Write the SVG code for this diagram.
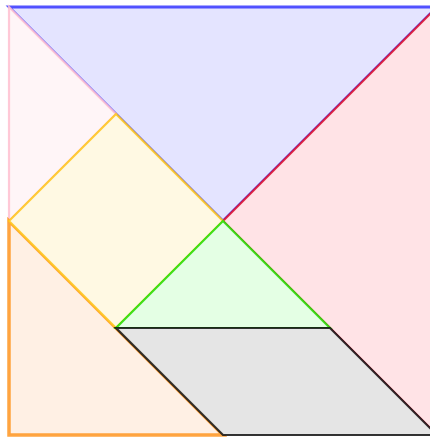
<svg xmlns="http://www.w3.org/2000/svg" width="430" height="437" viewBox="0 0 430 437">
<style>
.p{stroke-width:2.2;stroke-linejoin:miter;stroke-opacity:0.85}
</style>
<rect width="430" height="437" fill="#ffffff"/>
<g id="blue-triangle"><polygon class="p" points="9,7 437,7 223,221" fill="#e4e4ff" stroke="#3535ff" style="stroke-width:2.8"/></g>
<g id="red-triangle"><polygon class="p" points="437,7 437,435 223,221" fill="#ffe3e6" stroke="#dc0a2a"/></g>
<g id="pink-triangle"><polygon class="p" points="9,7 116,114 9,221" fill="#fff5f7" stroke="#ffbfd0" stroke-opacity="0.7"/></g>
<g id="orange-triangle"><polygon class="p" points="9,221 9,435 223,435" fill="#fff0e4" stroke="#ff9520" style="stroke-width:3.5"/></g>
<g id="yellow-square"><polygon class="p" points="116,114 223,221 116,328 9,221" fill="#fff9e3" stroke="#ffc61a"/></g>
<g id="green-triangle"><polygon class="p" points="223,221 330,328 116,328" fill="#e4ffe4" stroke="#22dd00"/></g>
<g id="grey-parallelogram"><polygon class="p" points="116,328 330,328 437,435 223,435" fill="#e4e4e4" stroke="#111111" stroke-opacity="0.75" fill-opacity="0.95"/></g>
</svg>
